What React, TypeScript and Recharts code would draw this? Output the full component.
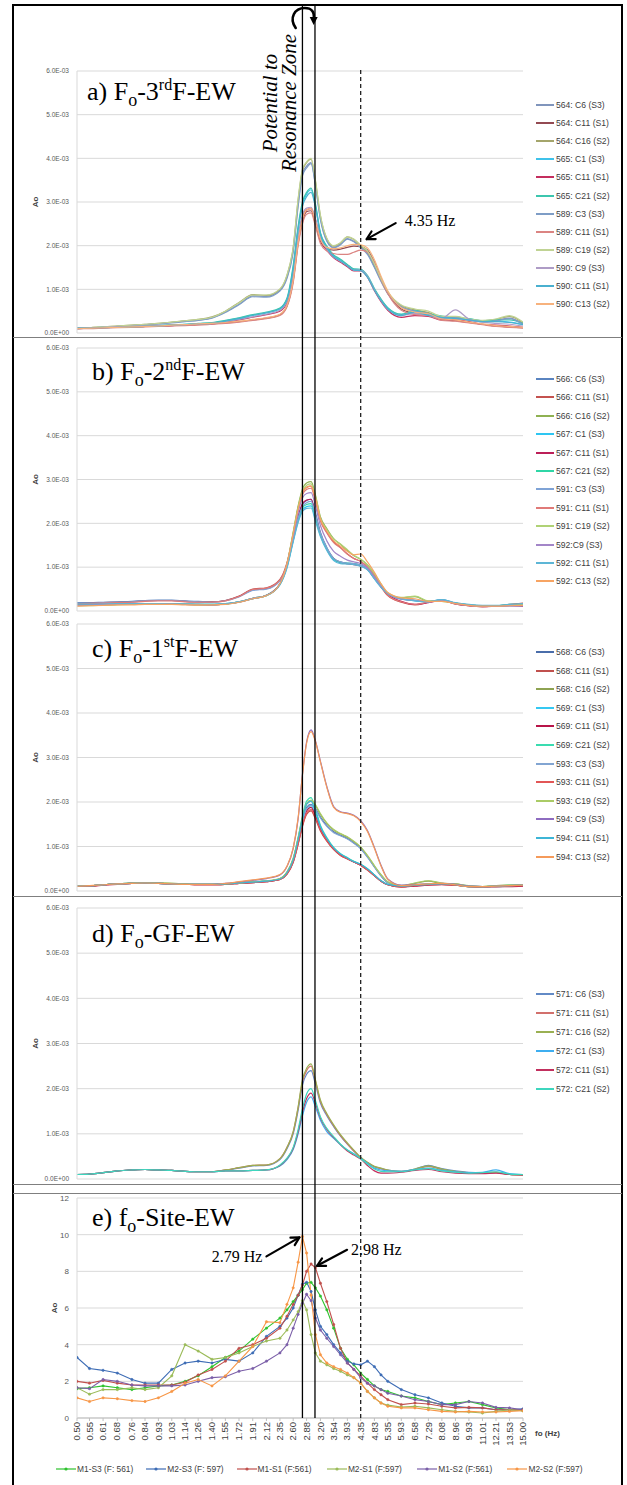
import React from 'react';
import { LineChart, Line, XAxis, YAxis, CartesianGrid } from 'recharts';

// ---------- data ----------
const FREQ_HZ = [0.50,0.55,0.61,0.68,0.76,0.84,0.93,1.03,1.14,1.26,1.40,1.55,1.72,1.91,2.12,2.35,2.48,2.60,2.70,2.79,2.88,2.98,3.08,3.20,3.36,3.54,3.73,3.93,4.13,4.35,4.58,4.83,5.08,5.35,5.93,6.58,7.29,8.08,8.96,9.93,11.01,12.21,13.53,15.00];
const X_TICKS = [0.50,0.55,0.61,0.68,0.76,0.84,0.93,1.03,1.14,1.26,1.40,1.55,1.72,1.91,2.12,2.35,2.60,2.88,3.20,3.54,3.93,4.35,4.83,5.35,5.93,6.58,7.29,8.08,8.96,9.93,11.01,12.21,13.53,15.00];
const AO_TICKS = [0, 0.001, 0.002, 0.003, 0.004, 0.005, 0.006];
const SITE_TICKS = [0, 2, 4, 6, 8, 10, 12];
const MILLI = 0.001; // panels a-d values below are in units of 1E-03

const A_NAMES = ['564: C6 (S3)','564: C11 (S1)','564: C16 (S2)','565: C1 (S3)','565: C11 (S1)','565: C21 (S2)','589: C3 (S3)','589: C11 (S1)','589: C19 (S2)','590: C9 (S3)','590: C11 (S1)','590: C13 (S2)'];
const A_VALUES = [
  [0.11,0.12,0.13,0.15,0.17,0.19,0.21,0.24,0.27,0.29,0.35, 0.48,0.66,0.85,0.84,0.98,1.28,1.9,2.95,3.65,3.82,3.9, 3.4,2.62,2.12,1.96,2.04,2.16,2.1,1.97,1.83,1.52,1.2, 0.9,0.6,0.5,0.45,0.34,0.36,0.3,0.26,0.29,0.34,0.21],
  [0.1,0.11,0.12,0.13,0.14,0.15,0.16,0.17,0.19,0.2,0.21, 0.23,0.26,0.3,0.34,0.42,0.62,1.2,2.05,2.55,2.78,2.8, 2.5,2.1,1.93,1.9,1.92,1.96,1.99,1.98,1.9,1.62,1.25, 0.92,0.55,0.45,0.42,0.3,0.28,0.24,0.2,0.16,0.14,0.12],
  [0.11,0.12,0.14,0.16,0.18,0.2,0.22,0.25,0.28,0.31,0.37, 0.5,0.7,0.88,0.86,1.0,1.32,1.95,3.05,3.72,3.9,3.98, 3.48,2.68,2.16,1.99,2.06,2.2,2.14,2.0,1.86,1.56,1.22, 0.93,0.63,0.53,0.47,0.36,0.37,0.31,0.28,0.31,0.38,0.23],
  [0.11,0.12,0.13,0.14,0.15,0.16,0.17,0.18,0.2,0.21,0.23, 0.28,0.34,0.41,0.47,0.56,0.78,1.5,2.4,2.95,3.18,3.28, 2.92,2.28,1.97,1.77,1.67,1.56,1.46,1.45,1.3,1.0,0.76, 0.57,0.42,0.5,0.42,0.37,0.34,0.31,0.27,0.27,0.25,0.2],
  [0.1,0.11,0.12,0.13,0.14,0.15,0.16,0.17,0.18,0.2,0.21, 0.25,0.3,0.36,0.42,0.5,0.7,1.3,2.15,2.65,2.82,2.85, 2.6,2.15,1.9,1.72,1.62,1.52,1.42,1.42,1.28,0.97,0.72, 0.52,0.36,0.4,0.38,0.3,0.3,0.26,0.2,0.18,0.16,0.13],
  [0.11,0.12,0.13,0.14,0.15,0.16,0.17,0.19,0.2,0.22,0.24, 0.29,0.35,0.42,0.48,0.57,0.8,1.55,2.45,3.0,3.22,3.32, 2.96,2.3,1.99,1.79,1.69,1.57,1.47,1.46,1.32,1.02,0.78, 0.58,0.43,0.52,0.44,0.39,0.35,0.33,0.28,0.3,0.3,0.22],
  [0.1,0.11,0.13,0.15,0.17,0.19,0.21,0.23,0.26,0.29,0.34, 0.47,0.65,0.83,0.82,0.96,1.25,1.85,2.9,3.6,3.78,3.88, 3.38,2.6,2.1,1.95,2.02,2.15,2.09,1.95,1.8,1.5,1.18, 0.9,0.6,0.5,0.44,0.33,0.35,0.29,0.26,0.28,0.33,0.2],
  [0.1,0.1,0.11,0.12,0.13,0.14,0.15,0.16,0.17,0.18,0.2, 0.22,0.25,0.29,0.33,0.4,0.6,1.15,2.0,2.5,2.72,2.75, 2.45,2.05,1.88,1.82,1.8,1.8,1.85,1.9,1.85,1.6,1.22, 0.9,0.52,0.42,0.4,0.29,0.27,0.23,0.19,0.15,0.13,0.11],
  [0.11,0.12,0.14,0.16,0.18,0.2,0.22,0.25,0.28,0.31,0.36, 0.5,0.69,0.87,0.87,1.01,1.33,1.97,3.08,3.75,3.92,4.0, 3.5,2.7,2.17,2.0,2.07,2.2,2.15,2.01,1.88,1.58,1.24, 0.95,0.64,0.55,0.5,0.38,0.38,0.32,0.29,0.32,0.4,0.25],
  [0.11,0.12,0.13,0.14,0.15,0.16,0.17,0.18,0.19,0.21,0.22, 0.26,0.31,0.37,0.43,0.52,0.72,1.35,2.2,2.7,2.86,2.88, 2.62,2.18,1.92,1.74,1.64,1.54,1.44,1.44,1.3,0.99,0.74, 0.54,0.4,0.45,0.4,0.34,0.53,0.32,0.25,0.22,0.2,0.16],
  [0.11,0.12,0.12,0.13,0.14,0.15,0.16,0.18,0.19,0.21,0.22, 0.27,0.33,0.4,0.46,0.55,0.76,1.45,2.35,2.9,3.12,3.22, 2.88,2.25,1.95,1.75,1.65,1.54,1.44,1.43,1.28,0.98,0.74, 0.55,0.4,0.48,0.4,0.36,0.33,0.3,0.26,0.26,0.24,0.19],
  [0.1,0.11,0.12,0.13,0.14,0.15,0.16,0.18,0.19,0.21,0.22, 0.24,0.27,0.31,0.35,0.43,0.64,1.22,2.08,2.6,2.82,2.85, 2.55,2.15,1.96,1.93,1.95,2.0,2.03,2.02,1.95,1.68,1.3, 0.96,0.58,0.48,0.44,0.32,0.3,0.25,0.21,0.17,0.15,0.13],
];

const B_NAMES = ['566: C6 (S3)','566: C11 (S1)','566: C16 (S2)','567: C1 (S3)','567: C11 (S1)','567: C21 (S2)','591: C3 (S3)','591: C11 (S1)','591: C19 (S2)','592:C9 (S3)','592: C11 (S1)','592: C13 (S2)'];
const B_VALUES = [
  [0.19,0.19,0.2,0.21,0.22,0.24,0.25,0.25,0.23,0.22,0.21, 0.24,0.33,0.48,0.51,0.7,1.05,1.65,2.15,2.42,2.52,2.55, 2.25,1.8,1.45,1.2,1.12,1.09,1.08,1.04,0.96,0.76,0.56, 0.4,0.27,0.24,0.21,0.25,0.17,0.13,0.11,0.11,0.12,0.12],
  [0.17,0.18,0.19,0.2,0.21,0.23,0.24,0.24,0.22,0.21,0.21, 0.24,0.34,0.5,0.53,0.72,1.1,1.75,2.35,2.7,2.82,2.85, 2.55,2.08,1.8,1.58,1.45,1.3,1.2,1.13,1.0,0.8,0.55, 0.35,0.2,0.14,0.2,0.25,0.16,0.12,0.1,0.11,0.15,0.18],
  [0.12,0.13,0.14,0.15,0.15,0.16,0.16,0.16,0.15,0.15,0.14, 0.16,0.21,0.29,0.36,0.62,1.08,1.8,2.4,2.78,2.92,2.95, 2.65,2.15,1.88,1.65,1.52,1.38,1.26,1.18,1.05,0.84,0.6, 0.4,0.3,0.33,0.22,0.22,0.18,0.14,0.12,0.12,0.14,0.15],
  [0.15,0.15,0.16,0.16,0.17,0.17,0.16,0.16,0.15,0.15,0.15, 0.17,0.21,0.28,0.35,0.6,1.0,1.6,2.05,2.3,2.38,2.4, 2.1,1.72,1.4,1.17,1.1,1.08,1.07,1.03,0.95,0.74,0.55, 0.4,0.28,0.23,0.21,0.26,0.18,0.14,0.12,0.12,0.14,0.13],
  [0.13,0.13,0.14,0.15,0.16,0.16,0.16,0.16,0.15,0.14,0.14, 0.16,0.2,0.28,0.36,0.62,1.04,1.66,2.15,2.45,2.53,2.55, 2.2,1.76,1.42,1.2,1.11,1.08,1.06,1.03,0.95,0.75,0.55, 0.38,0.22,0.15,0.19,0.24,0.16,0.12,0.1,0.11,0.12,0.11],
  [0.14,0.14,0.15,0.16,0.16,0.17,0.17,0.16,0.16,0.15,0.15, 0.16,0.21,0.29,0.36,0.61,1.02,1.62,2.1,2.35,2.43,2.45, 2.15,1.74,1.42,1.19,1.11,1.09,1.08,1.05,0.97,0.76,0.56, 0.41,0.28,0.24,0.22,0.25,0.18,0.14,0.12,0.12,0.15,0.16],
  [0.18,0.18,0.19,0.2,0.21,0.23,0.24,0.24,0.22,0.21,0.2, 0.23,0.32,0.47,0.5,0.69,1.04,1.63,2.12,2.38,2.47,2.5, 2.2,1.78,1.44,1.2,1.12,1.09,1.08,1.04,0.96,0.75,0.56, 0.4,0.28,0.25,0.22,0.26,0.18,0.14,0.12,0.11,0.12,0.12],
  [0.16,0.17,0.18,0.19,0.2,0.22,0.23,0.23,0.21,0.2,0.2, 0.23,0.33,0.49,0.52,0.71,1.08,1.72,2.3,2.65,2.77,2.8, 2.5,2.05,1.78,1.56,1.44,1.3,1.2,1.13,1.0,0.8,0.56, 0.36,0.21,0.15,0.2,0.24,0.16,0.12,0.1,0.11,0.14,0.17],
  [0.12,0.12,0.13,0.14,0.15,0.15,0.16,0.16,0.15,0.14,0.14, 0.16,0.2,0.28,0.35,0.61,1.06,1.78,2.37,2.74,2.87,2.9, 2.62,2.12,1.86,1.64,1.53,1.4,1.27,1.18,1.05,0.85,0.62, 0.41,0.31,0.34,0.23,0.22,0.18,0.14,0.12,0.12,0.13,0.14],
  [0.13,0.14,0.15,0.15,0.16,0.16,0.17,0.16,0.15,0.15,0.14, 0.16,0.21,0.29,0.36,0.62,1.05,1.7,2.25,2.58,2.68,2.7, 2.4,1.95,1.6,1.36,1.25,1.16,1.12,1.08,0.98,0.78,0.57, 0.4,0.27,0.24,0.21,0.24,0.17,0.13,0.11,0.11,0.12,0.12],
  [0.16,0.16,0.16,0.17,0.17,0.17,0.17,0.16,0.16,0.15,0.15, 0.17,0.21,0.28,0.35,0.6,0.98,1.58,2.02,2.27,2.34,2.35, 2.05,1.7,1.38,1.15,1.08,1.07,1.06,1.02,0.94,0.73,0.54, 0.4,0.28,0.23,0.21,0.26,0.19,0.15,0.13,0.13,0.15,0.17],
  [0.11,0.12,0.13,0.14,0.14,0.15,0.15,0.15,0.14,0.14,0.14, 0.15,0.2,0.28,0.35,0.62,1.07,1.76,2.33,2.7,2.82,2.85, 2.58,2.1,1.82,1.6,1.48,1.36,1.28,1.3,1.12,0.88,0.62, 0.42,0.3,0.28,0.22,0.22,0.17,0.13,0.11,0.11,0.12,0.13],
];

const C_NAMES = ['568: C6 (S3)','568: C11 (S1)','568: C16 (S2)','569: C1 (S3)','569: C11 (S1)','569: C21 (S2)','593: C3 (S3)','593: C11 (S1)','593: C19 (S2)','594: C9 (S3)','594: C11 (S1)','594: C13 (S2)'];
const C_VALUES = [
  [0.12,0.12,0.14,0.16,0.18,0.18,0.17,0.16,0.15,0.15,0.15, 0.16,0.18,0.2,0.22,0.27,0.4,0.68,1.12,1.55,1.88,1.95, 1.85,1.66,1.47,1.33,1.25,1.18,1.08,0.96,0.77,0.54,0.34, 0.19,0.11,0.14,0.16,0.16,0.15,0.11,0.1,0.11,0.12,0.13],
  [0.12,0.11,0.14,0.16,0.17,0.18,0.17,0.16,0.15,0.14,0.14, 0.15,0.17,0.19,0.21,0.26,0.38,0.64,1.05,1.45,1.72,1.8, 1.62,1.35,1.12,0.93,0.8,0.72,0.65,0.58,0.47,0.34,0.22, 0.14,0.09,0.12,0.14,0.15,0.13,0.1,0.09,0.1,0.11,0.12],
  [0.12,0.12,0.14,0.16,0.18,0.19,0.18,0.17,0.16,0.15,0.15, 0.16,0.18,0.2,0.22,0.28,0.42,0.72,1.18,1.62,1.95,2.02, 1.92,1.72,1.52,1.37,1.28,1.21,1.11,0.98,0.79,0.56,0.36, 0.2,0.12,0.17,0.22,0.17,0.16,0.11,0.1,0.12,0.13,0.13],
  [0.12,0.12,0.14,0.16,0.17,0.18,0.17,0.16,0.15,0.15,0.15, 0.16,0.18,0.2,0.22,0.27,0.4,0.68,1.12,1.55,1.85,1.92, 1.72,1.42,1.16,0.96,0.82,0.74,0.66,0.59,0.49,0.36,0.23, 0.15,0.11,0.13,0.15,0.16,0.14,0.1,0.1,0.1,0.11,0.12],
  [0.12,0.11,0.13,0.15,0.17,0.18,0.17,0.16,0.15,0.14,0.14, 0.15,0.17,0.19,0.21,0.26,0.39,0.66,1.08,1.5,1.8,1.88, 1.68,1.39,1.14,0.95,0.81,0.73,0.65,0.58,0.48,0.35,0.22, 0.14,0.09,0.11,0.13,0.14,0.13,0.1,0.09,0.1,0.1,0.11],
  [0.12,0.12,0.14,0.16,0.18,0.18,0.17,0.16,0.15,0.15,0.15, 0.16,0.18,0.2,0.22,0.27,0.42,0.72,1.2,1.68,2.02,2.1, 1.85,1.48,1.2,0.98,0.84,0.75,0.67,0.6,0.5,0.36,0.23, 0.15,0.11,0.13,0.15,0.16,0.14,0.1,0.1,0.11,0.13,0.14],
  [0.12,0.12,0.14,0.16,0.17,0.18,0.17,0.16,0.15,0.15,0.15, 0.16,0.18,0.2,0.22,0.27,0.4,0.67,1.1,1.52,1.85,1.93, 1.84,1.64,1.45,1.31,1.24,1.17,1.07,0.95,0.76,0.54,0.34, 0.19,0.11,0.14,0.15,0.16,0.15,0.11,0.1,0.11,0.12,0.13],
  [0.12,0.11,0.14,0.16,0.17,0.18,0.17,0.16,0.15,0.14,0.14, 0.15,0.17,0.19,0.21,0.26,0.38,0.65,1.06,1.47,1.75,1.83, 1.65,1.37,1.13,0.94,0.8,0.72,0.65,0.58,0.47,0.34,0.22, 0.14,0.09,0.12,0.14,0.15,0.13,0.1,0.09,0.1,0.11,0.12],
  [0.12,0.12,0.14,0.16,0.18,0.19,0.18,0.17,0.16,0.15,0.15, 0.16,0.18,0.21,0.23,0.28,0.43,0.73,1.2,1.65,1.97,2.04, 1.94,1.74,1.53,1.38,1.29,1.22,1.12,0.99,0.8,0.57,0.37, 0.21,0.12,0.18,0.23,0.18,0.16,0.12,0.1,0.12,0.13,0.14],
  [0.12,0.12,0.14,0.16,0.17,0.18,0.17,0.16,0.15,0.15,0.15, 0.17,0.2,0.24,0.28,0.36,0.55,0.95,1.62,2.62,3.35,3.62, 3.38,2.92,2.35,1.9,1.78,1.75,1.7,1.58,1.36,0.98,0.58, 0.27,0.13,0.15,0.15,0.17,0.15,0.11,0.1,0.11,0.12,0.13],
  [0.12,0.12,0.14,0.16,0.17,0.18,0.17,0.16,0.15,0.15,0.15, 0.16,0.18,0.2,0.22,0.27,0.41,0.7,1.16,1.62,1.95,2.02, 1.78,1.45,1.18,0.97,0.83,0.74,0.66,0.6,0.5,0.36,0.23, 0.15,0.11,0.13,0.15,0.16,0.14,0.1,0.1,0.11,0.12,0.13],
  [0.11,0.12,0.14,0.16,0.17,0.18,0.17,0.16,0.15,0.15,0.15, 0.17,0.21,0.25,0.29,0.37,0.56,0.97,1.65,2.6,3.32,3.58, 3.36,2.9,2.33,1.88,1.77,1.74,1.69,1.56,1.34,0.96,0.56, 0.26,0.12,0.14,0.16,0.17,0.14,0.1,0.1,0.11,0.12,0.13],
];

const D_NAMES = ['571: C6 (S3)','571: C11 (S1)','571: C16 (S2)','572: C1 (S3)','572: C11 (S1)','572: C21 (S2)'];
const D_VALUES = [
  [0.1,0.11,0.14,0.18,0.2,0.21,0.2,0.19,0.17,0.16,0.16, 0.19,0.24,0.29,0.3,0.43,0.67,1.0,1.52,2.08,2.32,2.4, 2.1,1.68,1.4,1.16,0.95,0.77,0.62,0.47,0.36,0.27,0.23, 0.2,0.17,0.22,0.3,0.23,0.18,0.15,0.14,0.15,0.1,0.09],
  [0.1,0.11,0.14,0.18,0.2,0.21,0.2,0.19,0.17,0.16,0.16, 0.2,0.25,0.3,0.31,0.45,0.7,1.04,1.58,2.15,2.4,2.5, 2.17,1.72,1.43,1.18,0.96,0.78,0.62,0.47,0.36,0.27,0.23, 0.19,0.16,0.21,0.28,0.21,0.16,0.13,0.13,0.14,0.1,0.09],
  [0.1,0.11,0.14,0.18,0.2,0.21,0.2,0.19,0.17,0.16,0.16, 0.2,0.25,0.3,0.31,0.45,0.7,1.05,1.6,2.2,2.45,2.55, 2.2,1.75,1.45,1.2,0.98,0.8,0.64,0.48,0.37,0.28,0.24, 0.2,0.17,0.22,0.29,0.22,0.17,0.14,0.14,0.15,0.1,0.09],
  [0.1,0.11,0.14,0.18,0.2,0.21,0.2,0.19,0.17,0.16,0.16, 0.18,0.18,0.19,0.2,0.29,0.43,0.65,1.0,1.4,1.7,1.82, 1.6,1.3,1.05,0.9,0.76,0.64,0.56,0.46,0.35,0.24,0.2, 0.18,0.17,0.21,0.24,0.19,0.16,0.14,0.15,0.2,0.12,0.1],
  [0.1,0.11,0.14,0.18,0.2,0.21,0.2,0.19,0.17,0.16,0.16, 0.18,0.18,0.19,0.2,0.3,0.45,0.68,1.05,1.48,1.78,1.9, 1.68,1.35,1.1,0.92,0.76,0.62,0.53,0.44,0.3,0.18,0.13, 0.13,0.15,0.19,0.21,0.16,0.13,0.12,0.12,0.13,0.1,0.09],
  [0.1,0.11,0.14,0.18,0.2,0.21,0.2,0.19,0.17,0.16,0.16, 0.18,0.18,0.19,0.2,0.31,0.46,0.7,1.1,1.55,1.88,2.0, 1.74,1.38,1.12,0.94,0.77,0.64,0.55,0.45,0.33,0.22,0.17, 0.16,0.16,0.2,0.23,0.18,0.15,0.13,0.14,0.16,0.11,0.1],
];

const E_NAMES = ['M1-S3 (F: 561)','M2-S3 (F: 597)','M1-S1 (F:561)','M2-S1 (F:597)','M1-S2 (F:561)','M2-S2 (F:597)'];
const E_VALUES = [
  [1.6,1.65,1.75,1.65,1.55,1.65,1.75,1.8,2.0,2.3,2.8, 3.3,3.65,4.3,4.9,5.45,5.9,6.35,6.7,7.0,7.35,7.4, 7.1,6.65,5.9,4.9,3.8,3.2,2.9,2.45,2.1,1.75,1.55, 1.45,1.2,1.1,0.9,0.73,0.82,0.9,0.73,0.55,0.45,0.4],
  [3.3,2.7,2.6,2.45,2.1,1.9,1.9,2.65,3.0,3.1,3.0, 3.2,3.1,3.55,4.45,5.0,5.45,6.0,6.7,7.3,7.4,6.9, 5.9,5.0,4.55,4.0,3.55,3.1,2.95,2.9,3.1,2.8,2.35, 2.0,1.55,1.27,1.1,0.82,0.64,0.55,0.55,0.45,0.45,0.5],
  [2.0,1.9,2.05,1.9,1.8,1.8,1.8,1.8,1.95,2.35,2.65, 3.1,3.8,4.0,4.35,4.9,5.55,6.2,6.7,7.25,8.0,8.4, 8.2,7.35,6.35,5.1,3.8,3.0,2.65,2.3,1.9,1.55,1.27, 1.0,0.73,0.82,0.76,0.64,0.55,0.58,0.55,0.45,0.45,0.45],
  [1.65,1.3,1.55,1.55,1.65,1.55,1.65,2.3,4.0,3.65,3.2, 3.3,3.55,3.9,4.2,4.35,4.8,5.35,5.8,6.4,5.9,4.55, 3.55,3.1,2.9,2.7,2.55,2.35,2.2,1.9,1.45,1.1,0.82, 0.7,0.6,0.64,0.55,0.45,0.36,0.33,0.27,0.36,0.45,0.4],
  [1.65,1.6,2.1,2.0,1.8,1.75,1.75,1.75,1.8,2.0,2.2, 2.25,2.55,2.7,3.1,3.55,4.0,4.9,5.65,6.25,6.75,6.4, 5.45,4.8,4.35,3.9,3.45,3.0,2.65,2.2,1.9,1.75,1.55, 1.35,1.2,1.0,0.9,0.73,0.73,0.9,0.82,0.58,0.55,0.45],
  [1.1,0.9,1.1,1.05,0.95,0.9,1.1,1.45,1.9,2.1,1.75, 2.3,3.1,3.9,5.25,5.2,6.2,7.1,8.5,9.9,9.0,6.7, 4.55,3.45,3.0,2.8,2.65,2.45,2.2,1.9,1.45,1.1,0.82, 0.64,0.55,0.55,0.45,0.36,0.33,0.36,0.33,0.33,0.36,0.4],
];

// annotations (Hz)
const ZONE_HZ = [2.79, 3.07];
const MARK_HZ = 4.35;
const PEAK_LABELS = [{ text: '2.79 Hz', f: 2.79, v: 9.85 }, { text: '2.98 Hz', f: 2.98, v: 8.3 }];

// ---------- styles ----------
const A_COLORS = ['#8095BC','#934A52','#A4A56B','#3FC2EA','#C42E5E','#3CC6AE','#7E9DC6','#DB8482','#C0D394','#AE9CC6','#4AB0CF','#F7B27D'];
const B_COLORS = ['#5A84C0','#C4524F','#8FB152','#2EC6F2','#BC1F58','#2FD6A6','#7FA3D6','#E07A78','#B0D275','#A386C8','#5DB6D6','#F7A463'];
const C_COLORS = ['#4A6DAA','#C0504D','#8EA352','#35C8F2','#B81448','#3ADCB0','#82A5D2','#E25656','#AACB66','#8E6CC0','#3DB5D6','#F59A5A'];
const D_COLORS = ['#628AC6','#D2706C','#9AB052','#3EAEF0','#C2305E','#3ED6BE'];
const E_COLORS = ['#2EC22E','#3D6CB5','#C0504D','#9BBB59','#7B5FA8','#F79646'];

const W = 627, H = 1485;
const PLOT_L = 77, PLOT_R = 523;
const SANS = '"Liberation Sans", Arial, sans-serif';
const SERIF = '"Liberation Serif", "Times New Roman", serif';
const PANELS = [
  { top: 71, bottom: 333 },
  { top: 348, bottom: 611 },
  { top: 624, bottom: 891 },
  { top: 908, bottom: 1179 },
];
const SITE = { top: 1198, bottom: 1418 };

const F_MIN = 0.5, F_MAX = 15;
const xPx = (f: number) => PLOT_L + (PLOT_R - PLOT_L) * Math.log(f / F_MIN) / Math.log(F_MAX / F_MIN);
const yPx = (p: { top: number; bottom: number }, v: number, max: number) => p.bottom - (v / max) * (p.bottom - p.top);

const aoFmt = (v: number) => (v === 0 ? '0.0E+00' : `${(v / MILLI).toFixed(1)}E-03`);

const RotTick = (props: any) => {
  const { x, y, payload } = props;
  return (
    <text x={x} y={y} transform={`rotate(-90 ${x} ${y})`} textAnchor="end" dy="0.33em" fontSize={9.5} fill="#404040" fontFamily={SANS}>
      {Number(payload.value).toFixed(2)}
    </text>
  );
};

function SpectrumPanel(props: { top: number; bottom: number; names: string[]; colors: string[]; values: number[][]; unit: number; yTicks: number[]; fmt?: (v: number) => string; site?: boolean }) {
  const { top, bottom, names, colors, values, unit, yTicks, fmt, site } = props;
  const MT = 6, MB = 2;
  const XH = site ? 34 : 0;
  const h = bottom - top + MT + MB + XH;
  const data = FREQ_HZ.map((f, i) => {
    const r: Record<string, number> = { f };
    values.forEach((s, k) => { if (s[i] !== undefined) r['s' + k] = s[i] * unit; });
    return r;
  });
  return (
    <div style={{ position: 'absolute', left: 0, top: top - MT, width: W, height: h }}>
      <LineChart width={W} height={h} data={data} margin={{ top: MT, right: W - PLOT_R, bottom: MB, left: 0 }}>
        <CartesianGrid vertical={false} stroke="#d9d9d9" strokeWidth={1} />
        <XAxis dataKey="f" type="number" scale="log" domain={[F_MIN, F_MAX]} ticks={X_TICKS} interval={0} hide={!site} height={XH}
          tick={site ? (p: any) => <RotTick {...p} /> : false} tickLine={{ stroke: '#bfbfbf' }} tickSize={3} tickMargin={1}
          axisLine={{ stroke: '#bfbfbf' }} allowDataOverflow />
        <YAxis width={PLOT_L} domain={[yTicks[0], yTicks[yTicks.length - 1]]} ticks={yTicks} interval={0} tickFormatter={fmt}
          tick={{ fontSize: site ? 8 : 6.5, fill: '#595959', fontFamily: SANS }} tickLine={false} axisLine={{ stroke: '#d9d9d9' }} allowDataOverflow />
        {values.map((_, k) => (
          <Line key={k} dataKey={'s' + k} name={names[k]} stroke={colors[k]} strokeWidth={site ? 1.1 : 1.2}
            type={site ? 'linear' : 'monotone'}
            dot={site ? { r: 1.2, fill: colors[k], stroke: colors[k], strokeWidth: 0.5 } : false}
            isAnimationActive={false} />
        ))}
      </LineChart>
    </div>
  );
}

function SideLegend({ names, colors, first, step }: { names: string[]; colors: string[]; first: number; step: number }) {
  return (
    <>
      {names.map((n, k) => (
        <div key={k} style={{ position: 'absolute', left: 536, top: first + k * step - 6, height: 12, display: 'flex', alignItems: 'center', fontFamily: SANS, fontSize: 8.6, color: '#404040', whiteSpace: 'nowrap' }}>
          <span style={{ display: 'inline-block', width: 18, height: 2, background: colors[k], marginRight: 2 }} />
          <span>{n}</span>
        </div>
      ))}
    </>
  );
}

function BottomLegend() {
  return (
    <div style={{ position: 'absolute', left: 56, top: 1463, display: 'flex', fontFamily: SANS, fontSize: 8.4, color: '#404040', whiteSpace: 'nowrap' }}>
      {E_NAMES.map((n, k) => (
        <div key={k} style={{ width: 90.3, display: 'flex', alignItems: 'center', height: 12 }}>
          <svg width={20} height={6} style={{ marginRight: 1 }}>
            <line x1={0} y1={3} x2={20} y2={3} stroke={E_COLORS[k]} strokeWidth={1.2} />
            <circle cx={10} cy={3} r={1.6} fill={E_COLORS[k]} />
          </svg>
          <span>{n}</span>
        </div>
      ))}
    </div>
  );
}

function Arrow({ x1, y1, x2, y2 }: { x1: number; y1: number; x2: number; y2: number }) {
  const a = Math.atan2(y2 - y1, x2 - x1);
  const L = 9, s = 0.5;
  const p1 = [x2 - L * Math.cos(a - s), y2 - L * Math.sin(a - s)];
  const p2 = [x2 - L * Math.cos(a + s), y2 - L * Math.sin(a + s)];
  return (
    <g stroke="#000" strokeWidth={2.2} fill="none" strokeLinecap="round" strokeLinejoin="round">
      <line x1={x1} y1={y1} x2={x2} y2={y2} />
      <polyline points={`${p1[0]},${p1[1]} ${x2},${y2} ${p2[0]},${p2[1]}`} />
    </g>
  );
}

function Title({ x, y, pre, sub, mid, sup, post }: { x: number; y: number; pre: string; sub: string; mid: string; sup?: string; post: string }) {
  return (
    <text x={x} y={y} fontFamily={SERIF} fontSize={26} fill="#000">
      {pre}
      <tspan dy={6} fontSize={18}>{sub}</tspan>
      <tspan dy={-6}>{mid}</tspan>
      {sup ? <tspan dy={-10} fontSize={16}>{sup}</tspan> : null}
      <tspan dy={sup ? 10 : 0}>{post}</tspan>
    </text>
  );
}

function Overlay() {
  const pa = PANELS[0];
  const tip435 = { x: xPx(MARK_HZ) + 6, y: yPx(pa, 0.00215, 0.006) };
  const e = SITE;
  const t1 = { x: xPx(PEAK_LABELS[0].f) - 3, y: yPx(e, PEAK_LABELS[0].v, 12) };
  const t2 = { x: xPx(PEAK_LABELS[1].f) + 6, y: yPx(e, PEAK_LABELS[1].v, 12) };
  const zx0 = xPx(ZONE_HZ[0]), zx1 = xPx(ZONE_HZ[1]);
  const midZone = (zx0 + zx1) / 2;
  return (
    <svg width={W} height={H} style={{ position: 'absolute', left: 0, top: 0, pointerEvents: 'none' }}>
      {/* frame */}
      <rect x={13} y={5} width={609} height={H + 10} fill="none" stroke="#000" strokeWidth={2} />
      <line x1={13} x2={622} y1={337.5} y2={337.5} stroke="#7f7f7f" strokeWidth={1} />
      <line x1={13} x2={622} y1={896.5} y2={896.5} stroke="#7f7f7f" strokeWidth={1} />
      <line x1={13} x2={622} y1={1184.5} y2={1184.5} stroke="#7f7f7f" strokeWidth={1} />
      <line x1={13} x2={622} y1={1193.5} y2={1193.5} stroke="#7f7f7f" strokeWidth={1} />
      {/* resonance zone and 4.35 Hz lines */}
      <line x1={zx0} x2={zx0} y1={5} y2={SITE.bottom} stroke="#000" strokeWidth={1.3} />
      <line x1={zx1} x2={zx1} y1={5} y2={SITE.bottom} stroke="#000" strokeWidth={1.3} />
      <line x1={xPx(MARK_HZ)} x2={xPx(MARK_HZ)} y1={pa.top - 1} y2={SITE.bottom} stroke="#222" strokeWidth={1.3} strokeDasharray="4 3" />
      {/* curved arrow */}
      <path d={`M ${midZone - 13} 28 C ${midZone - 20} 18, ${midZone - 14} 8, ${midZone - 4} 8 C ${midZone + 3} 8, ${midZone + 6} 12, ${midZone + 5} 19`} fill="none" stroke="#000" strokeWidth={2.6} strokeLinecap="round" />
      <polygon points={`${midZone + 1},${17} ${midZone + 9},${17} ${midZone + 5},${25}`} fill="#000" />
      {/* rotated note */}
      <text x={277} y={103} transform="rotate(-90 277 103)" textAnchor="middle" fontFamily={SERIF} fontStyle="italic" fontSize={21}>Potential to</text>
      <text x={296} y={103} transform="rotate(-90 296 103)" textAnchor="middle" fontFamily={SERIF} fontStyle="italic" fontSize={21}>Resonance Zone</text>
      {/* titles */}
      <Title x={87} y={100} pre="a) F" sub="o" mid="-3" sup="rd" post="F-EW" />
      <Title x={92} y={380} pre="b) F" sub="o" mid="-2" sup="nd" post="F-EW" />
      <Title x={92} y={657} pre="c) F" sub="o" mid="-1" sup="st" post="F-EW" />
      <Title x={92} y={942} pre="d) F" sub="o" mid="-GF-EW" post="" />
      <Title x={92} y={1226} pre="e) f" sub="o" mid="-Site-EW" post="" />
      {/* 4.35 Hz */}
      <Arrow x1={tip435.x + 29} y1={tip435.y - 16} x2={tip435.x} y2={tip435.y} />
      <text x={tip435.x + 38} y={tip435.y - 13} fontFamily={SERIF} fontSize={16}>4.35 Hz</text>
      {/* peak labels */}
      <Arrow x1={t1.x - 33} y1={t1.y + 19} x2={t1.x} y2={t1.y} />
      <text x={t1.x - 37} y={t1.y + 25} textAnchor="end" fontFamily={SERIF} fontSize={16}>{PEAK_LABELS[0].text}</text>
      <Arrow x1={t2.x + 30} y1={t2.y - 16} x2={t2.x} y2={t2.y} />
      <text x={t2.x + 34} y={t2.y - 11} fontFamily={SERIF} fontSize={16}>{PEAK_LABELS[1].text}</text>
      {/* axis titles */}
      {PANELS.map((p, i) => {
        const cy = (p.top + p.bottom) / 2;
        return <text key={i} x={38} y={cy} transform={`rotate(-90 38 ${cy})`} textAnchor="middle" fontFamily={SANS} fontWeight="bold" fontSize={8} fill="#404040">Ao</text>;
      })}
      <text x={57} y={(SITE.top + SITE.bottom) / 2} transform={`rotate(-90 57 ${(SITE.top + SITE.bottom) / 2})`} textAnchor="middle" fontFamily={SANS} fontWeight="bold" fontSize={8} fill="#404040">Ao</text>
      <text x={PLOT_R + 12} y={1436} fontFamily={SANS} fontWeight="bold" fontSize={8} fill="#404040">fo (Hz)</text>
    </svg>
  );
}

export default function App() {
  return (
    <div style={{ position: 'absolute', left: 0, top: 0, width: W, height: H, background: '#fff', overflow: 'hidden' }}>
      <SpectrumPanel {...PANELS[0]} names={A_NAMES} colors={A_COLORS} values={A_VALUES} unit={MILLI} yTicks={AO_TICKS} fmt={aoFmt} />
      <SpectrumPanel {...PANELS[1]} names={B_NAMES} colors={B_COLORS} values={B_VALUES} unit={MILLI} yTicks={AO_TICKS} fmt={aoFmt} />
      <SpectrumPanel {...PANELS[2]} names={C_NAMES} colors={C_COLORS} values={C_VALUES} unit={MILLI} yTicks={AO_TICKS} fmt={aoFmt} />
      <SpectrumPanel {...PANELS[3]} names={D_NAMES} colors={D_COLORS} values={D_VALUES} unit={MILLI} yTicks={AO_TICKS} fmt={aoFmt} />
      <SpectrumPanel {...SITE} names={E_NAMES} colors={E_COLORS} values={E_VALUES} unit={1} yTicks={SITE_TICKS} site />
      <SideLegend names={A_NAMES} colors={A_COLORS} first={105} step={18.1} />
      <SideLegend names={B_NAMES} colors={B_COLORS} first={379} step={18.4} />
      <SideLegend names={C_NAMES} colors={C_COLORS} first={652} step={18.6} />
      <SideLegend names={D_NAMES} colors={D_COLORS} first={994} step={19} />
      <BottomLegend />
      <Overlay />
    </div>
  );
}
